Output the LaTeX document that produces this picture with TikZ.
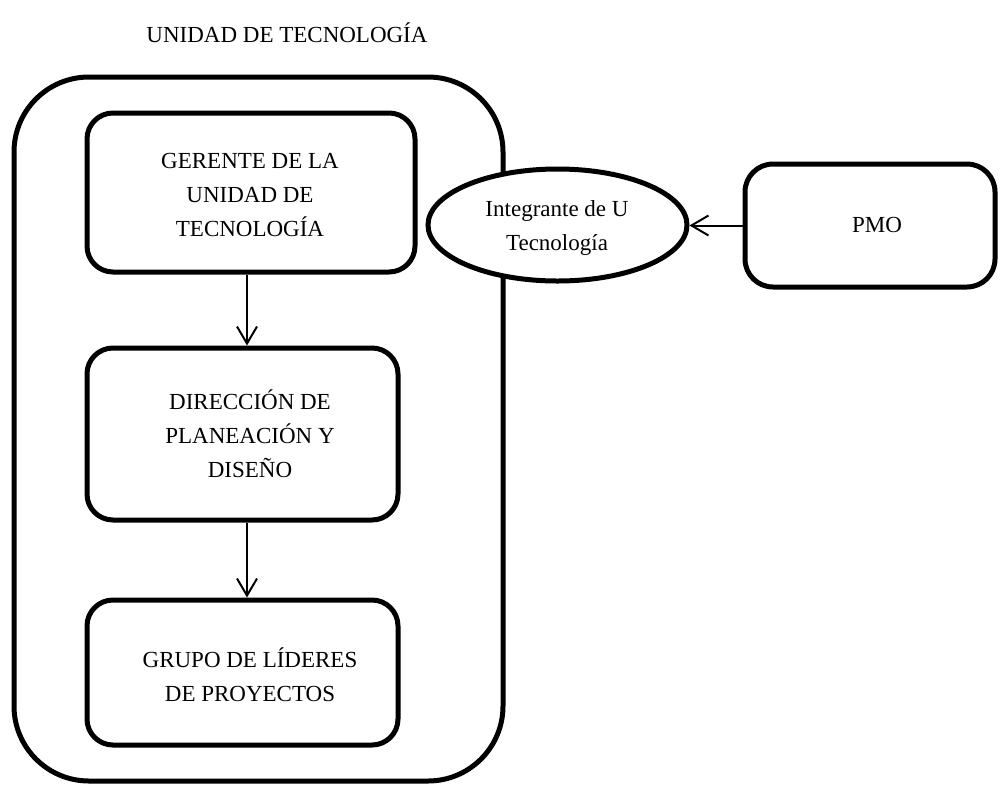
\documentclass[tikz,border=0pt]{standalone}
\usepackage{fontspec}
\setmainfont{Liberation Serif}
\usetikzlibrary{arrows.meta,shapes.geometric}
\begin{document}
\begin{tikzpicture}[x=1pt,y=-1pt,
  frame/.style={draw,line width=5pt,inner sep=0pt,fill=white},
  txt/.style={font=\fontsize{23}{34}\selectfont,align=center,inner sep=0pt},
  arr/.style={line width=2pt,-{Straight Barb[length=17pt,width=20pt]}}]
\useasboundingbox (0,0) rectangle (1000,785);
\node[txt] (title) at (287,33) {UNIDAD DE TECNOLOGÍA};
\node[frame,rounded corners=75pt,minimum width=489pt,minimum height=704pt] (outer) at (258.5,429) {};
\node[frame,ellipse,minimum width=259pt,minimum height=112pt] (ell) at (557.5,225) {};
\node[txt] (elltxt) at (557,228) {Integrante de U\\Tecnología};
\node[frame,rounded corners=26pt,minimum width=328pt,minimum height=159pt] (b1) at (251,192.5) {};
\node[frame,rounded corners=26pt,minimum width=311pt,minimum height=172pt] (b2) at (242.5,434) {};
\node[frame,rounded corners=26pt,minimum width=311pt,minimum height=145pt] (b3) at (242.5,672.5) {};
\node[frame,rounded corners=28pt,minimum width=250pt,minimum height=123pt] (pmo) at (870,225.5) {};
\node[txt] (t1) at (250,195) {GERENTE DE LA\\UNIDAD DE\\TECNOLOGÍA};
\node[txt] (t2) at (250,434) {DIRECCIÓN DE\\PLANEACIÓN Y\\DISEÑO};
\node[txt] (t3) at (250,675) {GRUPO DE LÍDERES\\DE PROYECTOS};
\node[txt] (tp) at (877,225) {PMO};
\coordinate (ax) at (247,0);
\draw[arr] (b1.south -| ax) -- (b2.north -| ax);
\draw[arr] (b2.south -| ax) -- (b3.north -| ax);
\draw[arr] (pmo.west) -- (pmo.west -| ell.east);
\end{tikzpicture}
\end{document}
